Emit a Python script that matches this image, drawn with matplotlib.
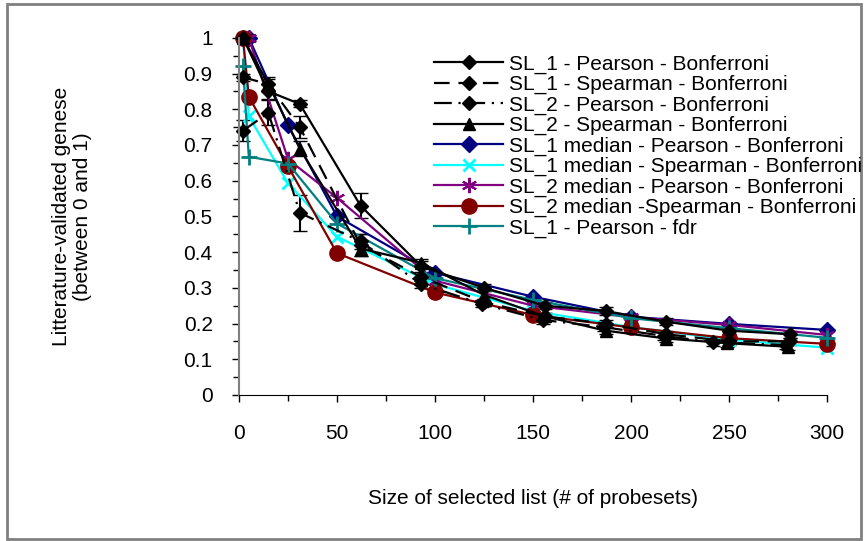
import matplotlib.pyplot as plt
from matplotlib.lines import Line2D
from matplotlib.patches import Rectangle
from matplotlib.ticker import MultipleLocator

plt.rcParams['font.family'] = ['Liberation Sans', 'DejaVu Sans']

# black series (with error bars)
x_sl1 = [2, 15, 31, 62, 93, 125, 156, 187, 218, 250, 281]
sl1_pearson = [1.0, 0.85, 0.815, 0.53, 0.36, 0.30, 0.25, 0.235, 0.205, 0.18, 0.17]
sl1_pearson_err = [0.0, 0.02, 0.01, 0.035, 0.015, 0.01, 0.01, 0.01, 0.01, 0.01, 0.01]
sl1_spearman = [0.89, 0.87, 0.75, 0.42, 0.33, 0.26, 0.22, 0.20, 0.17, 0.15, 0.15]
sl1_spearman_err = [0.01, 0.02, 0.03, 0.03, 0.01, 0.01, 0.01, 0.01, 0.01, 0.01, 0.01]
x_sl2p = [2, 15, 31, 62, 93, 124, 155, 186, 217, 242, 279]
sl2_pearson = [0.74, 0.79, 0.51, 0.43, 0.31, 0.255, 0.21, 0.19, 0.165, 0.148, 0.14]
sl2_pearson_err = [0.03, 0.035, 0.05, 0.02, 0.01, 0.01, 0.01, 0.01, 0.01, 0.01, 0.01]
x_sl2s = [2, 15, 31, 62, 93, 125, 156, 187, 218, 249, 280]
sl2_spearman = [1.0, 0.87, 0.69, 0.41, 0.37, 0.28, 0.22, 0.18, 0.158, 0.145, 0.135]
sl2_spearman_err = [0.0, 0.015, 0.02, 0.02, 0.01, 0.01, 0.01, 0.01, 0.01, 0.01, 0.01]

# median / fdr series
x_med = [2, 5, 25, 50, 100, 150, 200, 250, 300]
sl1_med_pearson = [1.0, 1.0, 0.755, 0.50, 0.342, 0.275, 0.219, 0.199, 0.182]
sl1_med_spearman = [1.0, 0.78, 0.593, 0.443, 0.31, 0.235, 0.19, 0.155, 0.132]
sl2_med_pearson = [1.0, 1.0, 0.66, 0.552, 0.32, 0.25, 0.218, 0.196, 0.168]
sl2_med_spearman = [1.0, 0.835, 0.64, 0.397, 0.287, 0.224, 0.189, 0.159, 0.143]
sl1_pearson_fdr = [0.92, 0.667, 0.648, 0.48, 0.327, 0.266, 0.215, 0.187, 0.16]

labels = ['SL_1 - Pearson - Bonferroni', 'SL_1 - Spearman - Bonferroni',
          'SL_2 - Pearson - Bonferroni', 'SL_2 - Spearman - Bonferroni',
          'SL_1 median - Pearson - Bonferroni', 'SL_1 median - Spearman - Bonferroni',
          'SL_2 median - Pearson - Bonferroni', 'SL_2 median -Spearman - Bonferroni',
          'SL_1 - Pearson - fdr']

FS = 15
lw = 1.6

# style per series: colour, linestyle, marker, markersize, markeredgewidth
styles = [
    ('black', '-', 'D', 7, 1),
    ('black', (0, (7, 4)), 'D', 7, 1),
    ('black', (0, (8, 3, 1, 3)), 'D', 7, 1),
    ('black', '-', '^', 8, 1),
    ('#000080', '-', 'D', 8, 1),
    ('#00FFFF', '-', 'x', 9, 2),
    ('#800080', '-', (6, 2, 0), 11, 1.5),
    ('#800000', '-', 'o', 11, 1),
    ('#008080', '-', '+', 11, 2),
]

fig = plt.figure(figsize=(8.66, 5.41), dpi=100)
ax = fig.add_axes([0.276, 0.270, 0.679, 0.660])

eb = dict(ecolor='black', elinewidth=1.5, capsize=5, capthick=1.5)
black = [(x_sl1, sl1_pearson, sl1_pearson_err), (x_sl1, sl1_spearman, sl1_spearman_err),
         (x_sl2p, sl2_pearson, sl2_pearson_err), (x_sl2s, sl2_spearman, sl2_spearman_err)]
for (xs, ys, es), (c, ls, m, ms, mew) in zip(black, styles[:4]):
    ax.errorbar(xs, ys, yerr=es, color=c, ls=ls, lw=lw, marker=m, ms=ms, mew=mew, **eb)

medians = [sl1_med_pearson, sl1_med_spearman, sl2_med_pearson, sl2_med_spearman, sl1_pearson_fdr]
for ys, (c, ls, m, ms, mew) in zip(medians, styles[4:]):
    ax.plot(x_med, ys, color=c, ls=ls, lw=lw, marker=m, ms=ms, mew=mew)

for art in ax.get_children():
    try:
        art.set_clip_on(False)
    except Exception:
        pass

ax.set_xlim(0, 300)
ax.set_ylim(0, 1)
ax.xaxis.set_major_locator(MultipleLocator(50))
ax.xaxis.set_minor_locator(MultipleLocator(25))
ax.yaxis.set_minor_locator(MultipleLocator(0.05))
ax.set_yticks([i / 10 for i in range(11)])
ax.set_yticklabels(['0', '0.1', '0.2', '0.3', '0.4', '0.5', '0.6', '0.7', '0.8', '0.9', '1'])
ax.tick_params(axis='both', which='major', length=5, width=1, labelsize=FS, color='black')
ax.tick_params(axis='both', which='minor', length=4, width=1, color='black')
ax.tick_params(axis='x', which='major', pad=16)
ax.tick_params(axis='y', which='major', pad=14)
ax.spines['top'].set_visible(False)
ax.spines['right'].set_visible(False)
ax.spines['left'].set_color('#808080')
ax.spines['left'].set_linewidth(1.5)

ax.set_xlabel('Size of selected list (# of probesets)', fontsize=FS, labelpad=33)
ax.set_ylabel('Litterature-validated genese\n(between 0 and 1)', fontsize=FS,
              labelpad=66, linespacing=1.15)

handles = [Line2D([], [], color=c, ls=ls, lw=lw, marker=m, ms=ms, mew=mew)
           for c, ls, m, ms, mew in styles]
fig.legend(handles, labels, loc='upper left',
           bbox_to_anchor=(0.492, 0.915), frameon=False, fontsize=FS,
           handlelength=3.3, handletextpad=0.3, labelspacing=0.06, borderaxespad=0)

fig.patches.append(Rectangle((0.008, 0.004), 0.986, 0.988, transform=fig.transFigure,
                             fill=False, edgecolor='#808080', lw=2))

fig.savefig('out.png', dpi=100)
